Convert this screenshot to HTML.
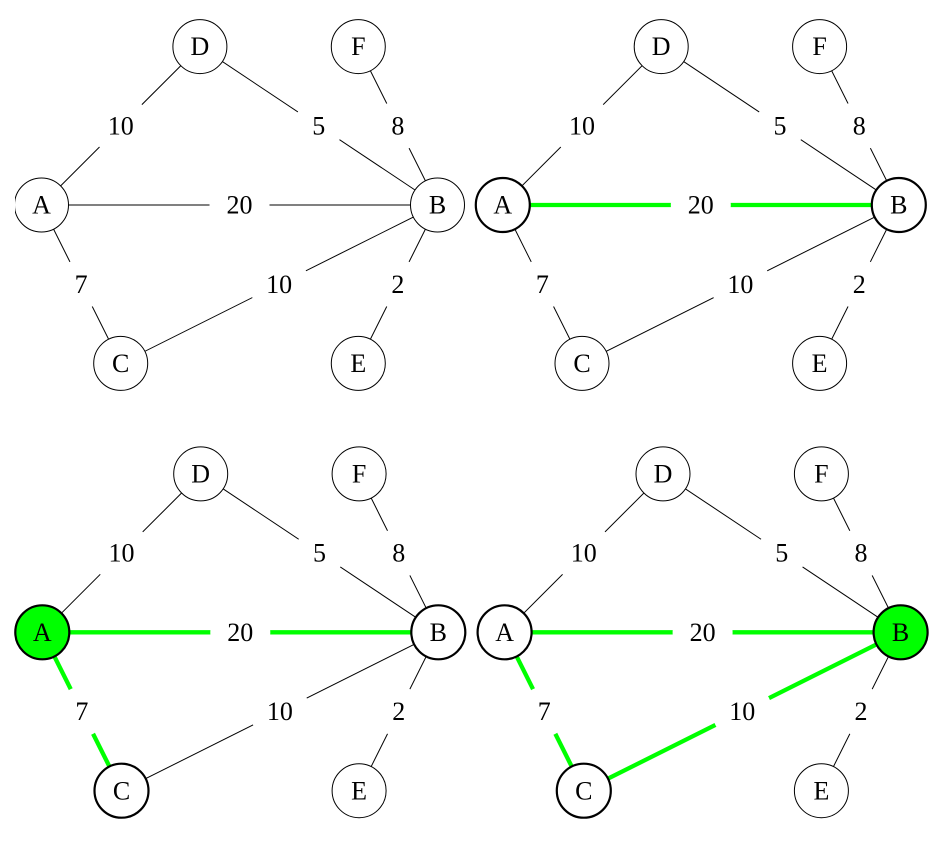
<!DOCTYPE html>
<html>
<head>
<meta charset="utf-8">
<style>
  html, body { margin: 0; padding: 0; background: #fff; }
  svg { display: block; }
  text { font-family: "Liberation Serif", "DejaVu Serif", serif; font-size: 26px; fill: #000; text-anchor: middle; }
  .e { stroke: #000; stroke-width: 1; fill: none; }
  .g { stroke: #00ff00; stroke-width: 4.3; fill: none; }
  .lb { fill: #fff; stroke: none; }
  .n { fill: #fff; stroke: #000; stroke-width: 1; }
  .nb { fill: #fff; stroke: #000; stroke-width: 2.2; }
  .ng { fill: #00ff00; stroke: #000; stroke-width: 2.2; }
</style>
</head>
<body>
<svg width="940" height="868" viewBox="0 0 940 868" xmlns="http://www.w3.org/2000/svg">
  <rect x="0" y="0" width="940" height="868" fill="#fff"/>

  <!-- Panel 1 -->
  <g transform="translate(41.5,205)">
    <line class="e" x1="0" y1="0" x2="158.4" y2="-158.4"/>
    <line class="e" x1="158.4" y1="-158.4" x2="396" y2="0"/>
    <line class="e" x1="316.8" y1="-158.4" x2="396" y2="0"/>
    <line class="e" x1="0" y1="0" x2="396" y2="0"/>
    <line class="e" x1="0" y1="0" x2="79.2" y2="158.4"/>
    <line class="e" x1="79.2" y1="158.4" x2="396" y2="0"/>
    <line class="e" x1="396" y1="0" x2="316.8" y2="158.4"/>
    <circle class="lb" cx="79.2" cy="-79.2" r="30"/><text x="79.2" y="-70.6">10</text>
    <circle class="lb" cx="277.2" cy="-79.2" r="25"/><text x="277.2" y="-70.6">5</text>
    <circle class="lb" cx="356.4" cy="-79.2" r="25"/><text x="356.4" y="-70.6">8</text>
    <circle class="lb" cx="198" cy="0" r="30"/><text x="198" y="8.6">20</text>
    <circle class="lb" cx="39.6" cy="79.2" r="25"/><text x="39.6" y="87.8">7</text>
    <circle class="lb" cx="237.6" cy="79.2" r="30"/><text x="237.6" y="87.8">10</text>
    <circle class="lb" cx="356.4" cy="79.2" r="25"/><text x="356.4" y="87.8">2</text>
    <circle class="n" cx="0" cy="0" r="27"/><text x="0" y="8.6">A</text>
    <circle class="n" cx="396" cy="0" r="27"/><text x="396" y="8.6">B</text>
    <circle class="n" cx="158.4" cy="-158.4" r="27"/><text x="158.4" y="-149.8">D</text>
    <circle class="n" cx="316.8" cy="-158.4" r="27"/><text x="316.8" y="-149.8">F</text>
    <circle class="n" cx="79.2" cy="158.4" r="27"/><text x="79.2" y="167">C</text>
    <circle class="n" cx="316.8" cy="158.4" r="27"/><text x="316.8" y="167">E</text>
  </g>
  <rect x="0" y="170" width="15" height="70" fill="#fff"/>

  <!-- Panel 2 -->
  <g transform="translate(502.8,205)">
    <line class="e" x1="0" y1="0" x2="158.4" y2="-158.4"/>
    <line class="e" x1="158.4" y1="-158.4" x2="396" y2="0"/>
    <line class="e" x1="316.8" y1="-158.4" x2="396" y2="0"/>
    <line class="g" x1="0" y1="0" x2="396" y2="0"/>
    <line class="e" x1="0" y1="0" x2="79.2" y2="158.4"/>
    <line class="e" x1="79.2" y1="158.4" x2="396" y2="0"/>
    <line class="e" x1="396" y1="0" x2="316.8" y2="158.4"/>
    <circle class="lb" cx="79.2" cy="-79.2" r="30"/><text x="79.2" y="-70.6">10</text>
    <circle class="lb" cx="277.2" cy="-79.2" r="25"/><text x="277.2" y="-70.6">5</text>
    <circle class="lb" cx="356.4" cy="-79.2" r="25"/><text x="356.4" y="-70.6">8</text>
    <circle class="lb" cx="198" cy="0" r="30"/><text x="198" y="8.6">20</text>
    <circle class="lb" cx="39.6" cy="79.2" r="25"/><text x="39.6" y="87.8">7</text>
    <circle class="lb" cx="237.6" cy="79.2" r="30"/><text x="237.6" y="87.8">10</text>
    <circle class="lb" cx="356.4" cy="79.2" r="25"/><text x="356.4" y="87.8">2</text>
    <circle class="nb" cx="0" cy="0" r="27"/><text x="0" y="8.6">A</text>
    <circle class="nb" cx="396" cy="0" r="27"/><text x="396" y="8.6">B</text>
    <circle class="n" cx="158.4" cy="-158.4" r="27"/><text x="158.4" y="-149.8">D</text>
    <circle class="n" cx="316.8" cy="-158.4" r="27"/><text x="316.8" y="-149.8">F</text>
    <circle class="n" cx="79.2" cy="158.4" r="27"/><text x="79.2" y="167">C</text>
    <circle class="n" cx="316.8" cy="158.4" r="27"/><text x="316.8" y="167">E</text>
  </g>

  <!-- Panel 3 -->
  <g transform="translate(42.3,632.3)">
    <line class="e" x1="0" y1="0" x2="158.4" y2="-158.4"/>
    <line class="e" x1="158.4" y1="-158.4" x2="396" y2="0"/>
    <line class="e" x1="316.8" y1="-158.4" x2="396" y2="0"/>
    <line class="g" x1="0" y1="0" x2="396" y2="0"/>
    <line class="g" x1="0" y1="0" x2="79.2" y2="158.4"/>
    <line class="e" x1="79.2" y1="158.4" x2="396" y2="0"/>
    <line class="e" x1="396" y1="0" x2="316.8" y2="158.4"/>
    <circle class="lb" cx="79.2" cy="-79.2" r="30"/><text x="79.2" y="-70.6">10</text>
    <circle class="lb" cx="277.2" cy="-79.2" r="25"/><text x="277.2" y="-70.6">5</text>
    <circle class="lb" cx="356.4" cy="-79.2" r="25"/><text x="356.4" y="-70.6">8</text>
    <circle class="lb" cx="198" cy="0" r="30"/><text x="198" y="8.6">20</text>
    <circle class="lb" cx="39.6" cy="79.2" r="25"/><text x="39.6" y="87.8">7</text>
    <circle class="lb" cx="237.6" cy="79.2" r="30"/><text x="237.6" y="87.8">10</text>
    <circle class="lb" cx="356.4" cy="79.2" r="25"/><text x="356.4" y="87.8">2</text>
    <circle class="ng" cx="0" cy="0" r="27"/><text x="0" y="8.6">A</text>
    <circle class="nb" cx="396" cy="0" r="27"/><text x="396" y="8.6">B</text>
    <circle class="n" cx="158.4" cy="-158.4" r="27"/><text x="158.4" y="-149.8">D</text>
    <circle class="n" cx="316.8" cy="-158.4" r="27"/><text x="316.8" y="-149.8">F</text>
    <circle class="nb" cx="79.2" cy="158.4" r="27"/><text x="79.2" y="167">C</text>
    <circle class="n" cx="316.8" cy="158.4" r="27"/><text x="316.8" y="167">E</text>
  </g>

  <!-- Panel 4 -->
  <g transform="translate(504.6,632.3)">
    <line class="e" x1="0" y1="0" x2="158.4" y2="-158.4"/>
    <line class="e" x1="158.4" y1="-158.4" x2="396" y2="0"/>
    <line class="e" x1="316.8" y1="-158.4" x2="396" y2="0"/>
    <line class="g" x1="0" y1="0" x2="396" y2="0"/>
    <line class="g" x1="0" y1="0" x2="79.2" y2="158.4"/>
    <line class="g" x1="79.2" y1="158.4" x2="396" y2="0"/>
    <line class="e" x1="396" y1="0" x2="316.8" y2="158.4"/>
    <circle class="lb" cx="79.2" cy="-79.2" r="30"/><text x="79.2" y="-70.6">10</text>
    <circle class="lb" cx="277.2" cy="-79.2" r="25"/><text x="277.2" y="-70.6">5</text>
    <circle class="lb" cx="356.4" cy="-79.2" r="25"/><text x="356.4" y="-70.6">8</text>
    <circle class="lb" cx="198" cy="0" r="30"/><text x="198" y="8.6">20</text>
    <circle class="lb" cx="39.6" cy="79.2" r="25"/><text x="39.6" y="87.8">7</text>
    <circle class="lb" cx="237.6" cy="79.2" r="30"/><text x="237.6" y="87.8">10</text>
    <circle class="lb" cx="356.4" cy="79.2" r="25"/><text x="356.4" y="87.8">2</text>
    <circle class="nb" cx="0" cy="0" r="27"/><text x="0" y="8.6">A</text>
    <circle class="ng" cx="396" cy="0" r="27"/><text x="396" y="8.6">B</text>
    <circle class="n" cx="158.4" cy="-158.4" r="27"/><text x="158.4" y="-149.8">D</text>
    <circle class="n" cx="316.8" cy="-158.4" r="27"/><text x="316.8" y="-149.8">F</text>
    <circle class="nb" cx="79.2" cy="158.4" r="27"/><text x="79.2" y="167">C</text>
    <circle class="n" cx="316.8" cy="158.4" r="27"/><text x="316.8" y="167">E</text>
  </g>
</svg>
</body>
</html>
